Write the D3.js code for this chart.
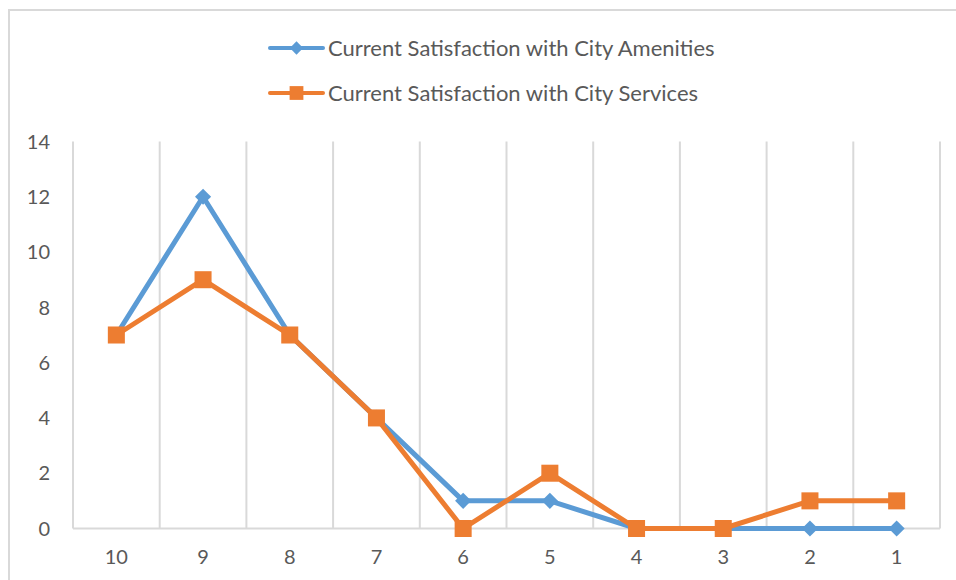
<!DOCTYPE html>
<meta charset="utf-8">
<style>
    body {
        margin: 0;
        background: #fff;
    }

    svg text {
        font-family: Lato, "Open Sans", sans-serif;
        fill: #595959;
    }
</style>

<body>
    <script src="https://d3js.org/d3.v7.min.js"></script>
    <script>
        // chart values
        var categories = ["10", "9", "8", "7", "6", "5", "4", "3", "2", "1"];
        var amenities = [7, 12, 7, 4, 1, 1, 0, 0, 0, 0];
        var services = [7, 9, 7, 4, 0, 2, 0, 0, 1, 1];
        var yTicks = [0, 2, 4, 6, 8, 10, 12, 14];
        var seriesNames = ["Current Satisfaction with City Amenities", "Current Satisfaction with City Services"];

        var totalWidth = 956,
            totalHeight = 580;
        var plot = {
            left: 73,
            right: 940,
            top: 141.5,
            bottom: 528.5
        };

        var x = d3.scaleBand()
            .domain(categories)
            .range([plot.left, plot.right])
            .padding(0);
        var y = d3.scaleLinear()
            .domain([0, 14])
            .range([plot.bottom, plot.top]);

        var color = d3.scaleOrdinal()
            .domain(seriesNames)
            .range(["#5b9bd5", "#ed7d31"]);

        var svg = d3.select("body").append("svg")
            .attr("width", totalWidth)
            .attr("height", totalHeight);

        // chart border
        svg.append("rect")
            .attr("x", 9)
            .attr("y", 10)
            .attr("width", 1000)
            .attr("height", 700)
            .attr("fill", "none")
            .attr("stroke", "#d9d9d9")
            .attr("stroke-width", 2);

        // vertical gridlines at category boundaries
        var bounds = categories.map(function(c) { return x(c); }).concat([plot.right]);
        svg.selectAll(".vgrid")
            .data(bounds)
            .enter().append("line")
            .attr("class", "vgrid")
            .attr("x1", function(d) { return d; })
            .attr("x2", function(d) { return d; })
            .attr("y1", plot.top)
            .attr("y2", plot.bottom)
            .attr("stroke", "#d9d9d9")
            .attr("stroke-width", 2);

        // x axis line
        svg.append("line")
            .attr("x1", plot.left)
            .attr("x2", plot.right)
            .attr("y1", plot.bottom)
            .attr("y2", plot.bottom)
            .attr("stroke", "#d9d9d9")
            .attr("stroke-width", 2);

        // y labels
        svg.selectAll(".ylab")
            .data(yTicks)
            .enter().append("text")
            .attr("class", "ylab")
            .attr("x", 50)
            .attr("y", function(d) { return y(d); })
            .attr("dy", "0.36em")
            .attr("text-anchor", "end")
            .style("font-size", "20px")
            .text(function(d) { return d; });

        // x labels
        svg.selectAll(".xlab")
            .data(categories)
            .enter().append("text")
            .attr("class", "xlab")
            .attr("x", function(d) { return x(d) + x.bandwidth() / 2; })
            .attr("y", 557)
            .attr("dy", "0.36em")
            .attr("text-anchor", "middle")
            .style("font-size", "20px")
            .text(function(d) { return d; });

        // diamonds are squares turned by 45 degrees
        var series = [
            { name: seriesNames[0], values: amenities, shape: d3.symbolSquare, turn: 45, size: 130, legendSize: 88 },
            { name: seriesNames[1], values: services, shape: d3.symbolSquare, turn: 0, size: 290, legendSize: 190 }
        ];

        var line = d3.line()
            .x(function(d, i) { return x(categories[i]) + x.bandwidth() / 2; })
            .y(function(d) { return y(d); });

        series.forEach(function(s) {
            svg.append("path")
                .datum(s.values)
                .attr("d", line)
                .attr("fill", "none")
                .attr("stroke", color(s.name))
                .attr("stroke-width", 5)
                .attr("stroke-linejoin", "round");

            svg.selectAll(null)
                .data(s.values)
                .enter().append("path")
                .attr("transform", function(d, i) {
                    return "translate(" + (x(categories[i]) + x.bandwidth() / 2) + "," + y(d) + ") rotate(" + s.turn + ")";
                })
                .attr("d", d3.symbol().type(s.shape).size(s.size))
                .attr("fill", color(s.name));
        });

        // legend
        var legend = svg.selectAll(".legend")
            .data(series)
            .enter().append("g")
            .attr("class", "legend")
            .attr("transform", function(d, i) {
                return "translate(270," + (48 + i * 45) + ")";
            });

        legend.append("line")
            .attr("x1", 0)
            .attr("x2", 53)
            .attr("stroke", function(d) { return color(d.name); })
            .attr("stroke-width", 4)
            .attr("stroke-linecap", "round");

        legend.append("path")
            .attr("transform", function(d) { return "translate(26.5,0) rotate(" + d.turn + ")"; })
            .attr("d", function(d) {
                return d3.symbol().type(d.shape).size(d.legendSize)();
            })
            .attr("fill", function(d) { return color(d.name); });

        legend.append("text")
            .attr("x", 58)
            .attr("dy", "0.36em")
            .style("font-size", "22px")
            .text(function(d) { return d.name; });
    </script>
</body>
